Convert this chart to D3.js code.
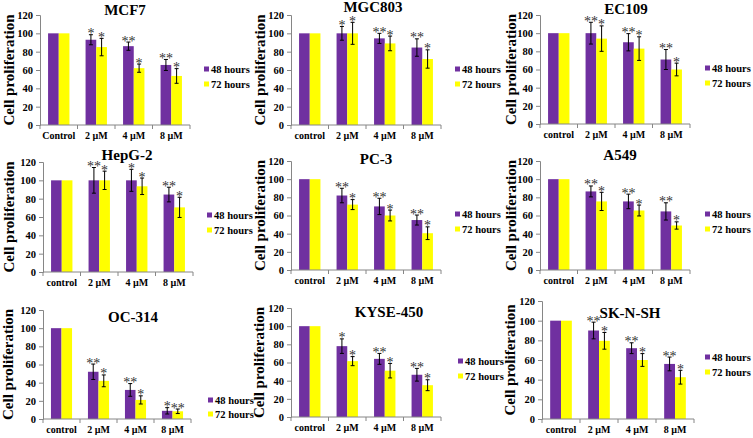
<!DOCTYPE html>
<html><head><meta charset="utf-8">
<script src="https://cdn.jsdelivr.net/npm/d3@7/dist/d3.min.js"></script>
<style>body{margin:0;background:#fff}svg{display:block}</style>
</head><body>
<svg id="c" width="753" height="438"></svg>
<script>
// ---- data ----
const titles = ["MCF7","MGC803","EC109","HepG-2","PC-3","A549","OC-314","KYSE-450","SK-N-SH"];
const categoriesCap = ["Control","2 µM","4 µM","8 µM"];
const categoriesLow = ["control","2 µM","4 µM","8 µM"];
const seriesNames = ["48 hours","72 hours"];
const yTicks = [0,20,40,60,80,100,120];

const values48 = [
  [100,93,86,65.5],[100,100,94.5,84.5],[100,100,90,71],
  [100,100,100,84.5],[100,82,70,55],[100,86.5,75.5,64.5],
  [100,52,32,9],[100,78,64,46.5],[100,90,72,56]
];
const err48 = [
  [0,5.5,4.5,6],[0,7.5,5.5,9.5],[0,12,9.5,11],
  [0,14,12,8],[0,8,9,5.5],[0,6,8,9.5],
  [0,8.5,7,3.5],[0,8,6,7],[0,8.5,5.5,7]
];
const values72 = [
  [100,85,62,53.5],[100,100,89,72],[100,94,83,60],
  [100,100,93.5,70.5],[100,72,60,40.5],[100,75.5,65.5,49],
  [100,42,21,8.5],[100,61.5,51,35],[100,79.5,60,42.5]
];
const err72 = [
  [0,9.5,4.5,8],[0,12,8,10],[0,14,13,7],
  [0,10,9,11],[0,5.5,6,7],[0,10,6,4],
  [0,6.5,4.5,2.5],[0,5,8,6],[0,8.5,6.5,7]
];
const stars48 = [
  ["","*","**","**"],["","*","**","**"],["","**","**","**"],
  ["","**","*","**"],["","**","**","**"],["","**","**","**"],
  ["","**","**","*"],["","*","**","**"],["","**","**","**"]
];
const stars72 = [
  ["","*","*","*"],["","*","*","*"],["","*","*","*"],
  ["","*","*","*"],["","*","*","*"],["","*","*","*"],
  ["","*","*","**"],["","*","*","*"],["","*","*","*"]
];

// ---- layout (positions only) ----
const layout = [
  {ox:40, yT:15, yB:125, w:150, tx:125, ty:15, lx:204, ly:69, ld:15, yl:8.5, cap:true},
  {ox:291,yT:15, yB:125, w:150, tx:373, ty:12, lx:455, ly:69, ld:15, yl:260},
  {ox:540,yT:15, yB:124, w:150, tx:626, ty:13.5,lx:705, ly:68, ld:15, yl:511},
  {ox:43, yT:162,yB:272, w:150, tx:127, ty:160, lx:207, ly:215,ld:15, yl:9},
  {ox:291,yT:161,yB:270, w:150, tx:376, ty:164, lx:455, ly:214,ld:15, yl:260},
  {ox:540,yT:161,yB:270, w:150, tx:620, ty:160, lx:705, ly:214,ld:15, yl:511},
  {ox:43, yT:310,yB:419, w:148, tx:133, ty:322, lx:208, ly:400,ld:14, yl:8},
  {ox:291,yT:308,yB:417, w:150, tx:389, ty:317, lx:458, ly:361,ld:15, yl:259},
  {ox:542,yT:301,yB:419, w:152, tx:630, ty:318, lx:705, ly:357,ld:15, yl:510}
];
const colors = ["#7030A0","#FFFF00"];
const font = "'Liberation Serif','Times New Roman',serif";
const axisColor = "#868686";

const svg = d3.select("#c");

titles.forEach((t,i)=>{
  const L = layout[i];
  const cats = L.cap ? categoriesCap : categoriesLow;
  const g = svg.append("g");
  const x = d3.scaleBand().domain(cats).range([L.ox, L.ox+L.w]).paddingInner(0.43).paddingOuter(0.215);
  const xs = d3.scaleBand().domain(seriesNames).range([0, x.bandwidth()]);
  const y = d3.scaleLinear().domain([0,120]).range([L.yB, L.yT]);

  const rows = cats.map((c,k)=>({c, k,
    s:[{n:seriesNames[0], v:values48[i][k], e:err48[i][k], st:stars48[i][k], col:colors[0]},
       {n:seriesNames[1], v:values72[i][k], e:err72[i][k], st:stars72[i][k], col:colors[1]}]}));

  // bars
  rows.forEach(r=>{
    r.s.forEach(s=>{
      const bx = x(r.c)+xs(s.n);
      g.append("rect").attr("x",bx).attr("y",y(s.v)).attr("width",xs.bandwidth())
        .attr("height",y(0)-y(s.v)).attr("fill",s.col);
    });
  });

  // y axis
  const ya = d3.axisLeft(y).tickValues(yTicks).tickSize(4).tickPadding(3);
  const yg = g.append("g").attr("transform",`translate(${L.ox},0)`).call(ya);
  yg.select(".domain").attr("stroke",axisColor);
  yg.selectAll(".tick line").attr("stroke",axisColor);
  yg.selectAll(".tick text").style("font-family",font).style("font-weight","bold")
    .style("font-size","10.5px").attr("fill","#000");

  // x axis
  const xa = d3.axisBottom(x).tickSize(0).tickPadding(7);
  const xg = g.append("g").attr("transform",`translate(0,${L.yB})`).call(xa);
  xg.select(".domain").attr("stroke",axisColor).attr("d",`M${L.ox},0H${L.ox+L.w}`);
  xg.selectAll(".tick text").style("font-family",font).style("font-weight","bold")
    .style("font-size","10px").attr("fill","#000");
  // category boundary tick marks
  const bounds = cats.map(c=>x(c)-x.step()*x.paddingInner()/2).slice(1).concat([L.ox+L.w]);
  [x.range()[0]].concat(bounds).forEach(b=>{
    g.append("line").attr("x1",b).attr("x2",b).attr("y1",L.yB).attr("y2",L.yB+4)
      .attr("stroke",axisColor);
  });

  // error bars and stars
  rows.forEach(r=>{
    r.s.forEach(s=>{
      if(!s.e && !s.st) return;
      const cx = x(r.c)+xs(s.n)+xs.bandwidth()/2;
      const top = y(s.v+s.e), bot = y(s.v-s.e);
      g.append("line").attr("x1",cx).attr("x2",cx).attr("y1",top).attr("y2",bot).attr("stroke","#000").attr("stroke-width",1);
      [top,bot].forEach(yy=>g.append("line").attr("x1",cx-2).attr("x2",cx+2).attr("y1",yy).attr("y2",yy).attr("stroke","#000"));
      if(s.st){
        g.append("text").attr("x",cx).attr("y",top+3.5).attr("text-anchor","middle")
          .style("font-family",font).style("font-size","14px").attr("fill","#333")
          .text(s.st);
      }
    });
  });

  // title
  g.append("text").attr("x",L.tx).attr("y",L.ty).attr("text-anchor","middle")
    .style("font-family",font).style("font-weight","bold").style("font-size","15px").text(t);

  // y label
  const ymid = (L.yT+L.yB)/2;
  g.append("text").attr("transform",`translate(${L.yl},${ymid}) rotate(-90)`)
    .attr("text-anchor","middle").attr("dominant-baseline","central")
    .style("font-family",font).style("font-weight","bold").style("font-size","15px").text("Cell proliferation");

  // legend
  seriesNames.forEach((n,k)=>{
    const ly = L.ly + k*L.ld;
    g.append("rect").attr("x",L.lx).attr("y",ly-2.5).attr("width",5).attr("height",5).attr("fill",colors[k]);
    g.append("text").attr("x",L.lx+7).attr("y",ly).attr("dominant-baseline","central")
      .style("font-family",font).style("font-weight","bold").style("font-size","10.5px").text(n);
  });
});
</script>
</body></html>
